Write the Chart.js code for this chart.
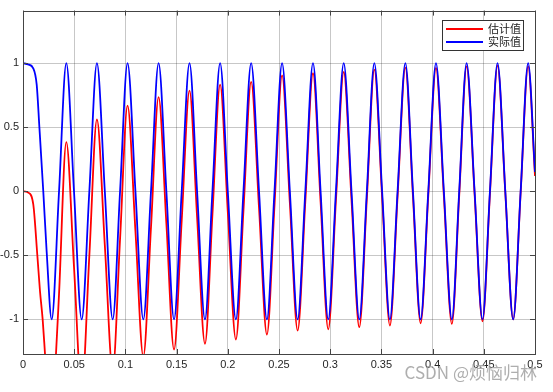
<!DOCTYPE html>
<html lang="zh">
<head>
    <meta charset="UTF-8">
    <title>估计值与实际值</title>
    <script src="https://cdn.jsdelivr.net/npm/chart.js"></script>
    <style>
        html, body { margin: 0; padding: 0; background: #fff; }
        canvas { display: block; }
    </style>
</head>
<body>
    <canvas id="chart" width="553" height="392"></canvas>

    <script>
        // values
        const seriesNames = ['估计值', '实际值'];

        // start of the run (before the regular oscillation)
        const tStartBlue = [0, 0.005, 0.010, 0.0134, 0.016, 0.0198, 0.0231, 0.028, 0.0352, 0.0423];
        const yStartBlue = [1, 0.99, 0.96, 0.83, 0.5, 0, -0.47, -1, 0, 1];
        const tStartRed = [0, 0.005, 0.010, 0.014, 0.0166, 0.0192, 0.0215, 0.0268, 0.0322, 0.0352, 0.0423];
        const yStartRed = [0, -0.01, -0.1, -0.5, -0.78, -1.0, -1.27, -1.9, -1.27, -0.8, 0.384];

        // crossings, troughs and peaks after the first peak
        const tCycle = [0.0498, 0.0573, 0.0648, 0.0722, 0.0799, 0.0876, 0.0948, 0.1021,
            0.1098, 0.1175, 0.125, 0.1324, 0.14, 0.1475, 0.155, 0.1626,
            0.170, 0.1777, 0.185, 0.1925, 0.200, 0.2079, 0.2153, 0.2228,
            0.2305, 0.2382, 0.2456, 0.2530, 0.2606, 0.2682, 0.2757, 0.2832,
            0.2906, 0.2981, 0.3056, 0.3132, 0.3208, 0.3284, 0.3358, 0.3431,
            0.3507, 0.3583, 0.3658, 0.3734, 0.3808, 0.3883, 0.3958, 0.4033,
            0.4110, 0.4188, 0.4260, 0.4332, 0.4410, 0.4487, 0.4560, 0.4634,
            0.4710, 0.4787, 0.4860, 0.4933, 0.5];
        const yCycleBlue = [0, -1, 0, 1, 0, -1, 0, 1,
            0, -1, 0, 1, 0, -1, 0, 1,
            0, -1, 0, 1, 0, -1, 0, 1,
            0, -1, 0, 1, 0, -1, 0, 1,
            0, -1, 0, 1, 0, -1, 0, 1,
            0, -1, 0, 1, 0, -1, 0, 1,
            0, -1, 0, 1, 0, -1, 0, 1,
            0, -1, 0, 1, 0.15];
        const yCycleRed = [-0.59, -1.56, -0.50, 0.56, -0.42, -1.40, -0.37, 0.669,
            -0.31, -1.29, -0.28, 0.734, -0.25, -1.235, -0.225, 0.786,
            -0.20, -1.19, -0.18, 0.833, -0.16, -1.157, -0.15, 0.853,
            -0.13, -1.118, -0.11, 0.905, -0.09, -1.087, -0.08, 0.921,
            -0.08, -1.077, -0.07, 0.931, -0.065, -1.061, -0.055, 0.949,
            -0.045, -1.048, -0.04, 0.965, -0.035, -1.03, -0.03, 0.962,
            -0.035, -1.035, -0.03, 0.975, -0.02, -1.015, -0.02, 0.98,
            -0.01, -1.0, -0.01, 0.975, 0.12];

        const xTicks = [0, 0.05, 0.1, 0.15, 0.2, 0.25, 0.3, 0.35, 0.4, 0.45, 0.5];
        const xTickLabels = ['0', '0.05', '0.1', '0.15', '0.2', '0.25', '0.3', '0.35', '0.4', '0.45', '0.5'];
        const yTicks = [-1, -0.5, 0, 0.5, 1];
        const yTickLabels = ['-1', '-0.5', '0', '0.5', '1'];

        const toPoints = (ts, ys) => ts.map((t, i) => ({ x: t, y: ys[i] }));
        const redData = toPoints(tStartRed.concat(tCycle), yStartRed.concat(yCycleRed));
        const blueData = toPoints(tStartBlue.concat(tCycle), yStartBlue.concat(yCycleBlue));

        const tickFont = { family: '"Liberation Sans", Arial, sans-serif', size: 11 };

        // box, inward tick marks, legend and watermark, MATLAB style
        const decorations = {
            id: 'decorations',
            afterDraw(chart) {
                const ctx = chart.ctx;
                const a = chart.chartArea;
                const xs = chart.scales.x, ys = chart.scales.y;
                ctx.save();
                ctx.strokeStyle = '#444';
                ctx.lineWidth = 1;
                ctx.beginPath();
                xTicks.forEach(v => {
                    const px = Math.round(xs.getPixelForValue(v)) + 0.5;
                    ctx.moveTo(px, a.bottom); ctx.lineTo(px, a.bottom - 5);
                    ctx.moveTo(px, a.top); ctx.lineTo(px, a.top + 5);
                });
                yTicks.forEach(v => {
                    const py = Math.round(ys.getPixelForValue(v)) + 0.5;
                    ctx.moveTo(a.left, py); ctx.lineTo(a.left + 5, py);
                    ctx.moveTo(a.right, py); ctx.lineTo(a.right - 5, py);
                });
                ctx.stroke();
                ctx.strokeRect(Math.round(a.left) + 0.5, Math.round(a.top) + 0.5,
                    Math.round(a.right - a.left), Math.round(a.bottom - a.top));

                // legend
                const lx = 442, ly = 20, lw = 81, lh = 30;
                ctx.fillStyle = '#fff';
                ctx.fillRect(lx, ly, lw, lh);
                ctx.strokeStyle = '#333';
                ctx.strokeRect(lx + 0.5, ly + 0.5, lw, lh);
                const colors = ['#ff0000', '#0000ff'];
                ctx.font = '11px "Noto Sans CJK SC", sans-serif';
                ctx.textBaseline = 'middle';
                seriesNames.forEach((name, i) => {
                    const yy = ly + 9 + i * 13;
                    ctx.strokeStyle = colors[i];
                    ctx.lineWidth = 1.8;
                    ctx.beginPath();
                    ctx.moveTo(lx + 4, yy); ctx.lineTo(lx + 41, yy);
                    ctx.stroke();
                    ctx.fillStyle = '#222';
                    ctx.fillText(name, lx + 46, yy);
                });

                // watermark
                ctx.font = '17px "Noto Sans CJK SC", "Liberation Sans", sans-serif';
                ctx.fillStyle = 'rgba(160,160,160,0.85)';
                ctx.textAlign = 'right';
                ctx.fillText('CSDN @烦恼归林', 537, 373);
                ctx.restore();
            }
        };

        new Chart(document.getElementById('chart'), {
            type: 'line',
            data: {
                datasets: [
                    {
                        label: seriesNames[0],
                        data: redData,
                        borderColor: '#ff0000',
                        borderWidth: 1.8,
                        pointRadius: 0,
                        cubicInterpolationMode: 'monotone',
                        order: 1
                    },
                    {
                        label: seriesNames[1],
                        data: blueData,
                        borderColor: '#0000ff',
                        borderWidth: 1.8,
                        pointRadius: 0,
                        cubicInterpolationMode: 'monotone',
                        order: 0
                    }
                ]
            },
            options: {
                responsive: false,
                animation: false,
                devicePixelRatio: 1,
                layout: { padding: { top: 9, right: 18, left: 0, bottom: 0 } },
                plugins: {
                    legend: { display: false },
                    tooltip: { enabled: false }
                },
                scales: {
                    x: {
                        type: 'linear',
                        min: 0,
                        max: 0.5,
                        afterBuildTicks: s => { s.ticks = xTicks.map(v => ({ value: v })); },
                        afterFit: s => { s.height = 38; },
                        grid: { color: 'rgba(0,0,0,0.22)', drawTicks: false },
                        border: { display: false },
                        ticks: {
                            font: tickFont,
                            color: '#262626',
                            padding: 4,
                            maxRotation: 0,
                            autoSkip: false,
                            callback: (v, i) => xTickLabels[i]
                        }
                    },
                    y: {
                        min: -1.27,
                        max: 1.41,
                        afterBuildTicks: s => { s.ticks = yTicks.map(v => ({ value: v })); },
                        afterFit: s => { s.width = 23; },
                        grid: { color: 'rgba(0,0,0,0.22)', drawTicks: false },
                        border: { display: false },
                        ticks: {
                            font: tickFont,
                            color: '#262626',
                            padding: 4,
                            autoSkip: false,
                            callback: (v, i) => yTickLabels[i]
                        }
                    }
                }
            },
            plugins: [decorations]
        });
    </script>
</body>
</html>
